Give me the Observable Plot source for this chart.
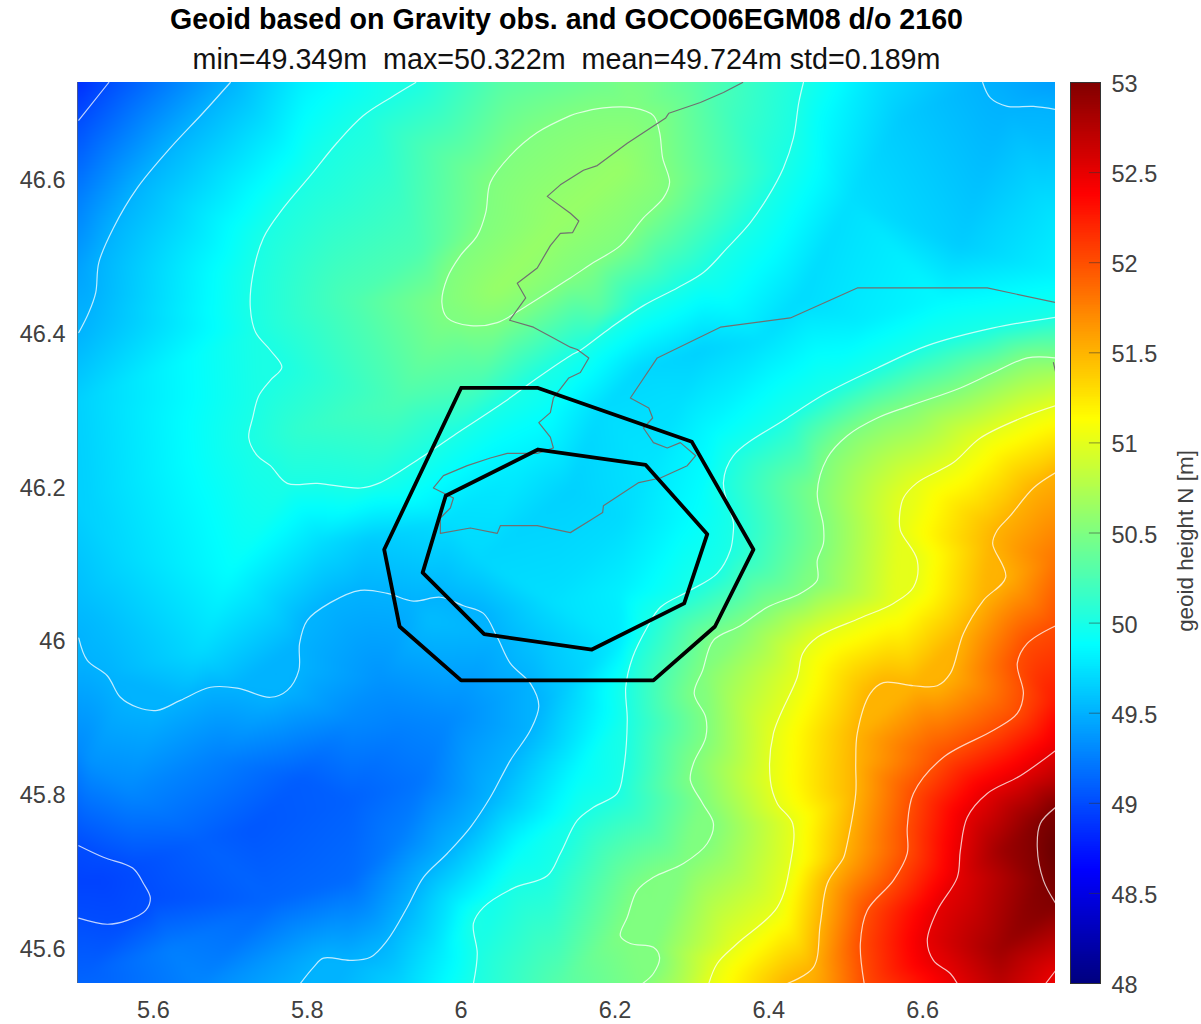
<!DOCTYPE html>
<html><head><meta charset="utf-8">
<script src="https://cdn.jsdelivr.net/npm/d3@7"></script>
<script src="https://cdn.jsdelivr.net/npm/@observablehq/plot@0.6"></script>
<style>
html,body{margin:0;padding:0;background:#fff;overflow:hidden;font-family:"Liberation Sans",Arial,sans-serif}
#head{height:70px;position:relative;text-align:center;width:1133px}
#t{position:absolute;left:0;right:0;top:3px;font-weight:bold;font-size:28.6px;color:#000;white-space:nowrap}
#s{position:absolute;left:0;right:0;top:43px;font-size:28.7px;color:#111;white-space:nowrap}
#row{display:flex}
#row svg{overflow:visible}
</style></head><body>
<div id="head"><div id="t">Geoid based on Gravity obs. and GOCO06EGM08 d/o 2160</div>
<div id="s">min=49.349m&nbsp; max=50.322m&nbsp; mean=49.724m std=0.189m</div></div>
<div id="row"></div>
<script>
const xTicks=[5.6,5.8,6,6.2,6.4,6.6];
const yTicks=[45.6,45.8,46,46.2,46.4,46.6];
const barTicks=[48,48.5,49,49.5,50,50.5,51,51.5,52,52.5,53];
const jetStops=[0,.125,.375,.625,.875,1];
const jetColors=["#000080","#0000ff","#00ffff","#ffff00","#ff0000","#800000"];

const c49a=[[5.542,46.727],[5.503,46.678]];
const c49b=[[5.503,45.735],[5.535,45.720],[5.573,45.706],[5.587,45.686],[5.596,45.667],[5.590,45.651],[5.566,45.638],[5.540,45.633],[5.503,45.641]];
const c495a=[[5.700,46.727],[5.665,46.688],[5.622,46.642],[5.579,46.590],[5.548,46.538],[5.529,46.493],[5.525,46.454],[5.516,46.428],[5.503,46.402]];
const c495b=[[6.678,46.727],[6.688,46.707],[6.710,46.696],[6.744,46.696],[6.773,46.692]];
const c495c=[[5.503,46.005],[5.514,45.976],[5.540,45.956],[5.557,45.928],[5.579,45.915],[5.605,45.911],[5.635,45.924],[5.674,45.941],[5.709,45.940],[5.752,45.928],[5.774,45.937],[5.789,45.963],[5.790,45.998],[5.800,46.028],[5.830,46.051],[5.869,46.067],[5.904,46.063],[5.938,46.053],[5.973,46.058],[6.003,46.047],[6.029,46.037],[6.047,46.006],[6.064,45.972],[6.090,45.946],[6.101,45.917],[6.090,45.885],[6.064,45.846],[6.038,45.798],[6.012,45.759],[5.982,45.725],[5.951,45.694],[5.930,45.655],[5.904,45.612],[5.882,45.590],[5.856,45.586],[5.821,45.589],[5.808,45.577],[5.791,45.556]];
const c50a=[[5.941,46.727],[5.908,46.707],[5.873,46.684],[5.839,46.649],[5.804,46.606],[5.769,46.564],[5.743,46.525],[5.729,46.476],[5.726,46.434],[5.733,46.402],[5.752,46.379],[5.767,46.357],[5.752,46.340],[5.737,46.320],[5.729,46.291],[5.724,46.265],[5.735,46.242],[5.752,46.229],[5.774,46.206],[5.813,46.206],[5.869,46.200],[5.895,46.207],[5.947,46.239],[5.990,46.268],[6.055,46.311],[6.099,46.343],[6.142,46.372],[6.155,46.379],[6.194,46.408],[6.237,46.437],[6.281,46.460],[6.315,46.480],[6.346,46.512],[6.376,46.545],[6.398,46.577],[6.419,46.616],[6.432,46.655],[6.439,46.701],[6.445,46.727]];
const c50b=[[6.773,46.422],[6.692,46.408],[6.606,46.385],[6.541,46.356],[6.476,46.324],[6.424,46.291],[6.354,46.242],[6.341,46.207],[6.354,46.155],[6.354,46.145],[6.350,46.119],[6.333,46.089],[6.298,46.067],[6.259,46.045],[6.242,46.019],[6.223,45.980],[6.214,45.941],[6.216,45.898],[6.211,45.833],[6.203,45.803],[6.172,45.785],[6.151,45.768],[6.129,45.725],[6.112,45.696],[6.068,45.680],[6.029,45.655],[6.016,45.634],[6.021,45.595],[6.016,45.556]];
const c505a=[[6.142,46.684],[6.099,46.662],[6.064,46.632],[6.038,46.597],[6.032,46.558],[6.021,46.528],[5.999,46.502],[5.982,46.473],[5.975,46.441],[5.982,46.421],[6.012,46.411],[6.047,46.415],[6.081,46.434],[6.142,46.473],[6.172,46.493],[6.207,46.515],[6.237,46.551],[6.263,46.577],[6.271,46.597],[6.262,46.629],[6.258,46.662],[6.250,46.684],[6.224,46.694],[6.185,46.694],[6.151,46.687],[6.142,46.684]];
const c505b=[[6.773,46.369],[6.736,46.369],[6.692,46.350],[6.649,46.330],[6.584,46.307],[6.541,46.291],[6.502,46.268],[6.476,46.239],[6.463,46.194],[6.471,46.151],[6.471,46.128],[6.463,46.106],[6.463,46.080],[6.441,46.063],[6.398,46.045],[6.363,46.021],[6.328,46.002],[6.314,45.963],[6.303,45.933],[6.318,45.902],[6.318,45.876],[6.302,45.842],[6.298,45.820],[6.314,45.790],[6.328,45.764],[6.320,45.738],[6.289,45.712],[6.250,45.694],[6.229,45.677],[6.216,45.642],[6.207,45.618],[6.220,45.608],[6.250,45.603],[6.258,45.590],[6.250,45.569],[6.236,45.556]];
const c51=[[6.773,46.307],[6.736,46.294],[6.675,46.265],[6.640,46.233],[6.593,46.207],[6.575,46.187],[6.570,46.164],[6.571,46.145],[6.593,46.106],[6.588,46.071],[6.562,46.050],[6.519,46.031],[6.463,46.006],[6.444,45.985],[6.437,45.954],[6.406,45.881],[6.402,45.820],[6.411,45.790],[6.431,45.764],[6.428,45.712],[6.411,45.655],[6.359,45.608],[6.333,45.582],[6.322,45.556]];
const c515=[[6.773,46.220],[6.744,46.200],[6.714,46.164],[6.697,46.145],[6.691,46.128],[6.708,46.084],[6.679,46.054],[6.653,46.011],[6.636,45.959],[6.619,45.943],[6.588,45.943],[6.549,45.947],[6.532,45.933],[6.515,45.881],[6.513,45.842],[6.513,45.803],[6.500,45.729],[6.497,45.719],[6.476,45.686],[6.467,45.634],[6.458,45.577],[6.424,45.556]];
const c52=[[6.773,46.021],[6.736,45.998],[6.723,45.972],[6.731,45.933],[6.723,45.907],[6.692,45.885],[6.627,45.850],[6.588,45.803],[6.580,45.759],[6.580,45.725],[6.562,45.690],[6.528,45.651],[6.519,45.608],[6.524,45.556]];
const c525a=[[6.773,45.859],[6.727,45.826],[6.684,45.803],[6.658,45.772],[6.649,45.729],[6.645,45.694],[6.619,45.651],[6.606,45.612],[6.614,45.586],[6.636,45.569],[6.645,45.556]];
const c525b=[[6.760,45.556],[6.773,45.573]];
const c53=[[6.773,45.785],[6.753,45.764],[6.749,45.733],[6.757,45.690],[6.773,45.660]];

const border=[[6.366,46.727],[6.341,46.714],[6.311,46.701],[6.270,46.687],[6.266,46.681],[6.216,46.648],[6.177,46.619],[6.159,46.613],[6.129,46.594],[6.112,46.579],[6.142,46.557],[6.153,46.547],[6.145,46.532],[6.129,46.531],[6.116,46.515],[6.099,46.486],[6.073,46.466],[6.084,46.447],[6.063,46.418],[6.094,46.409],[6.120,46.395],[6.142,46.383],[6.151,46.380],[6.166,46.369],[6.155,46.350],[6.140,46.343],[6.120,46.317],[6.116,46.298],[6.101,46.285],[6.116,46.266],[6.120,46.252],[6.099,46.245],[6.060,46.245],[6.038,46.239],[6.008,46.229],[5.977,46.216],[5.964,46.200],[5.990,46.187],[5.986,46.174],[5.973,46.161],[5.973,46.141],[6.012,46.148],[6.047,46.141],[6.051,46.151],[6.099,46.151],[6.142,46.142],[6.168,46.158],[6.184,46.168],[6.185,46.177],[6.231,46.207],[6.259,46.213],[6.294,46.229],[6.305,46.242],[6.285,46.259],[6.268,46.252],[6.250,46.259],[6.237,46.278],[6.249,46.291],[6.244,46.304],[6.220,46.317],[6.255,46.369],[6.337,46.409],[6.428,46.421],[6.515,46.460],[6.684,46.460],[6.773,46.441]];
const border2=[[6.770,46.363],[6.773,46.350]];
const outerPoly=[[6,46.33],[6.1,46.33],[6.3,46.26],[6.38,46.12],[6.33,46.02],[6.25,45.95],[6,45.95],[5.92,46.02],[5.9,46.12],[6,46.33]];
const innerPoly=[[5.98,46.19],[6.10,46.25],[6.24,46.23],[6.32,46.14],[6.29,46.05],[6.17,45.99],[6.03,46.01],[5.95,46.09],[5.98,46.19]];

// geoid height samples between the isolines: [lon, lat, N]
const samples=[
[5.791,45.820,49.08],[5.726,45.755,49.05],[5.856,45.794,49.1],[5.921,45.885,49.25],[5.947,45.820,49.2],[5.661,45.742,49.1],[5.531,45.690,48.95],[5.752,45.664,49.12],[5.856,45.690,49.15],[5.986,45.898,49.3],[5.856,45.898,49.3],[5.687,45.846,49.25],[5.570,45.807,49.3],[5.518,45.846,49.35],[5.622,45.599,49.25],[5.765,45.586,49.4],[5.518,45.573,49.1],[5.921,45.742,49.25],[5.895,45.950,49.35],
[5.700,46.093,49.88],[5.570,46.106,49.7],[5.512,46.184,49.65],[5.531,46.028,49.55],[5.661,45.989,49.7],[5.817,46.132,49.72],[5.882,46.132,49.62],
[6.077,46.223,49.78],[6.142,46.197,49.65],[6.025,46.106,49.68],[6.207,46.158,49.7],[6.116,46.054,49.72],[6.207,46.067,49.8],[5.986,46.158,49.72],[5.960,46.028,49.55],[6.207,46.002,49.78],[6.285,46.158,49.85],[6.103,46.002,49.6],[6.129,45.937,49.6],[6.129,45.872,49.68],[6.155,45.833,49.88],[6.077,45.729,49.9],[6.038,45.664,49.95],[5.986,45.664,49.75],[5.973,45.599,49.78],[5.921,45.560,49.65],
[6.649,46.515,49.63],[6.753,46.574,49.7],[6.506,46.574,49.72],[6.571,46.678,49.62],[6.753,46.652,49.55],[6.467,46.678,49.88],[6.766,46.483,49.8],[6.441,46.444,49.7],[6.311,46.379,49.65],[6.233,46.353,49.68],[6.181,46.301,49.7],[6.389,46.392,49.72],[6.519,46.418,49.78],[6.623,46.444,49.85],[6.285,46.314,49.72],[6.324,46.275,49.85],[6.246,46.223,49.75],[6.311,46.184,49.88],[6.110,46.301,49.9],[6.051,46.262,49.88],
[6.181,46.727,50.42],[6.051,46.727,50.3],[6.311,46.727,50.3],[5.791,46.727,49.8],[5.622,46.727,49.25],[5.501,46.727,48.85],[6.545,46.727,49.72],[6.773,46.727,49.4],
[6.129,46.548,50.62],[6.047,46.457,50.62],[6.207,46.613,50.62],[5.856,46.444,50.25],[5.921,46.314,50.25],[5.947,46.509,50.25],[5.791,46.275,50.12],[6.025,46.340,50.25],[6.181,46.431,50.3],
[5.501,46.574,49.25],[5.501,46.483,49.42],[5.501,46.314,49.65],[5.501,46.184,49.65],[5.501,46.054,49.55],[5.501,45.859,49.3],[5.501,45.690,48.95],[5.501,45.556,49.12],
[5.661,45.556,49.28],[6.129,45.556,50.3],[6.285,45.556,50.72],[6.701,45.556,52.72],[6.773,45.556,52.42],
[6.773,45.729,53.12],[6.773,45.820,52.72],[6.773,45.924,52.25],[6.773,46.106,51.8],[6.773,46.262,51.25],[6.773,46.340,50.75],[6.701,45.729,52.85],[6.701,45.599,52.85]];

const isolines=[[49,c49a],[49,c49b],[49.5,c495a],[49.5,c495b],[49.5,c495c],[50,c50a],[50,c50b],[50.5,c505a],[50.5,c505b],[51,c51],[51.5,c515],[52,c52],[52.5,c525a],[52.5,c525b],[53,c53]];
const inner=[...samples.map(([x,y,v])=>({x,y,v})),...isolines.flatMap(([v,pts])=>pts.map(([x,y])=>({x,y,v})))];
// the values at the frame's edge are held a little way outside it, so the smoothing has no seam at the edge
const field=[...inner,...inner.flatMap(p=>{
  const x=p.x<=5.505?5.42:p.x>=6.77?6.85:p.x, y=p.y<=45.557?45.48:p.y>=46.726?46.80:p.y;
  return (x!==p.x||y!==p.y)?[{x,y,v:p.v}]:[];
})];

const jetScale=d3.scaleLinear().domain(jetStops).range(jetColors).interpolate(d3.interpolateRgb);
const colorOpts={type:"linear",domain:[48,53],interpolate:t=>jetScale(t)};
const fontStyle={fontFamily:"'Liberation Sans',Arial,sans-serif",fontSize:"23.5px",color:"#404040",background:"transparent"};
const fmt=d=>String(d);

const map=Plot.plot({
  width:1065,height:954,marginLeft:77,marginRight:10,marginTop:12,marginBottom:41,
  style:fontStyle,
  x:{domain:[5.5013,6.7727],label:null},
  y:{domain:[45.556,46.727],label:null},
  color:colorOpts,
  marks:[
    Plot.raster(field,{x:"x",y:"y",fill:"v",interpolate:"barycentric",pixelSize:1,x1:5.47,x2:6.80,y1:45.53,y2:46.75,clip:true}),
    ...isolines.map(([v,pts])=>Plot.line(pts,{x:d=>d[0],y:d=>d[1],stroke:"#fff",strokeOpacity:.75,strokeWidth:1.2,curve:"catmull-rom",clip:true})),
    Plot.line(border,{x:d=>d[0],y:d=>d[1],stroke:"#707070",strokeWidth:1.2,clip:true}),
    Plot.line(border2,{x:d=>d[0],y:d=>d[1],stroke:"#707070",strokeWidth:1.2,clip:true}),
    Plot.line(outerPoly,{x:d=>d[0],y:d=>d[1],stroke:"#000",strokeWidth:3.8}),
    Plot.line(innerPoly,{x:d=>d[0],y:d=>d[1],stroke:"#000",strokeWidth:3.8}),
    Plot.ruleX([5.5013],{stroke:"#666",strokeOpacity:.7}),
    Plot.axisX({anchor:"bottom",ticks:xTicks,tickSize:0,tickPadding:18,tickFormat:fmt,label:null}),
    Plot.axisY({anchor:"left",ticks:yTicks,tickSize:0,tickPadding:12,tickFormat:fmt,label:null})
  ]
});
const rasterImage=map.querySelector("image");
if(rasterImage) rasterImage.style.filter="blur(4px)";

const ramp=d3.range(48,53,0.01);
const bar=Plot.plot({
  width:136,height:954,marginLeft:5,marginRight:101,marginTop:12,marginBottom:41,
  style:fontStyle,
  x:{domain:[0,1],axis:null},
  y:{domain:[48,53],label:null},
  color:colorOpts,
  marks:[
    Plot.rect(ramp,{x1:0,x2:1,y1:d=>d,y2:d=>d+0.012,fill:d=>d,shapeRendering:"crispEdges"}),
    Plot.ruleY(barTicks,{x1:.63,x2:1,y:d=>d,stroke:"#333",strokeOpacity:.55,strokeWidth:1}),
    Plot.frame({stroke:"#333",strokeWidth:1}),
    Plot.axisY({anchor:"right",ticks:barTicks,tickSize:0,tickPadding:11,dy:2,tickFormat:fmt,label:null}),
    Plot.text(["geoid height N [m]"],{frameAnchor:"middle",dx:100,dy:8,rotate:-90,fontSize:22.4,fill:"#404040"})
  ]
});
const row=document.getElementById("row");
row.append(map,bar);
</script>
</body></html>
